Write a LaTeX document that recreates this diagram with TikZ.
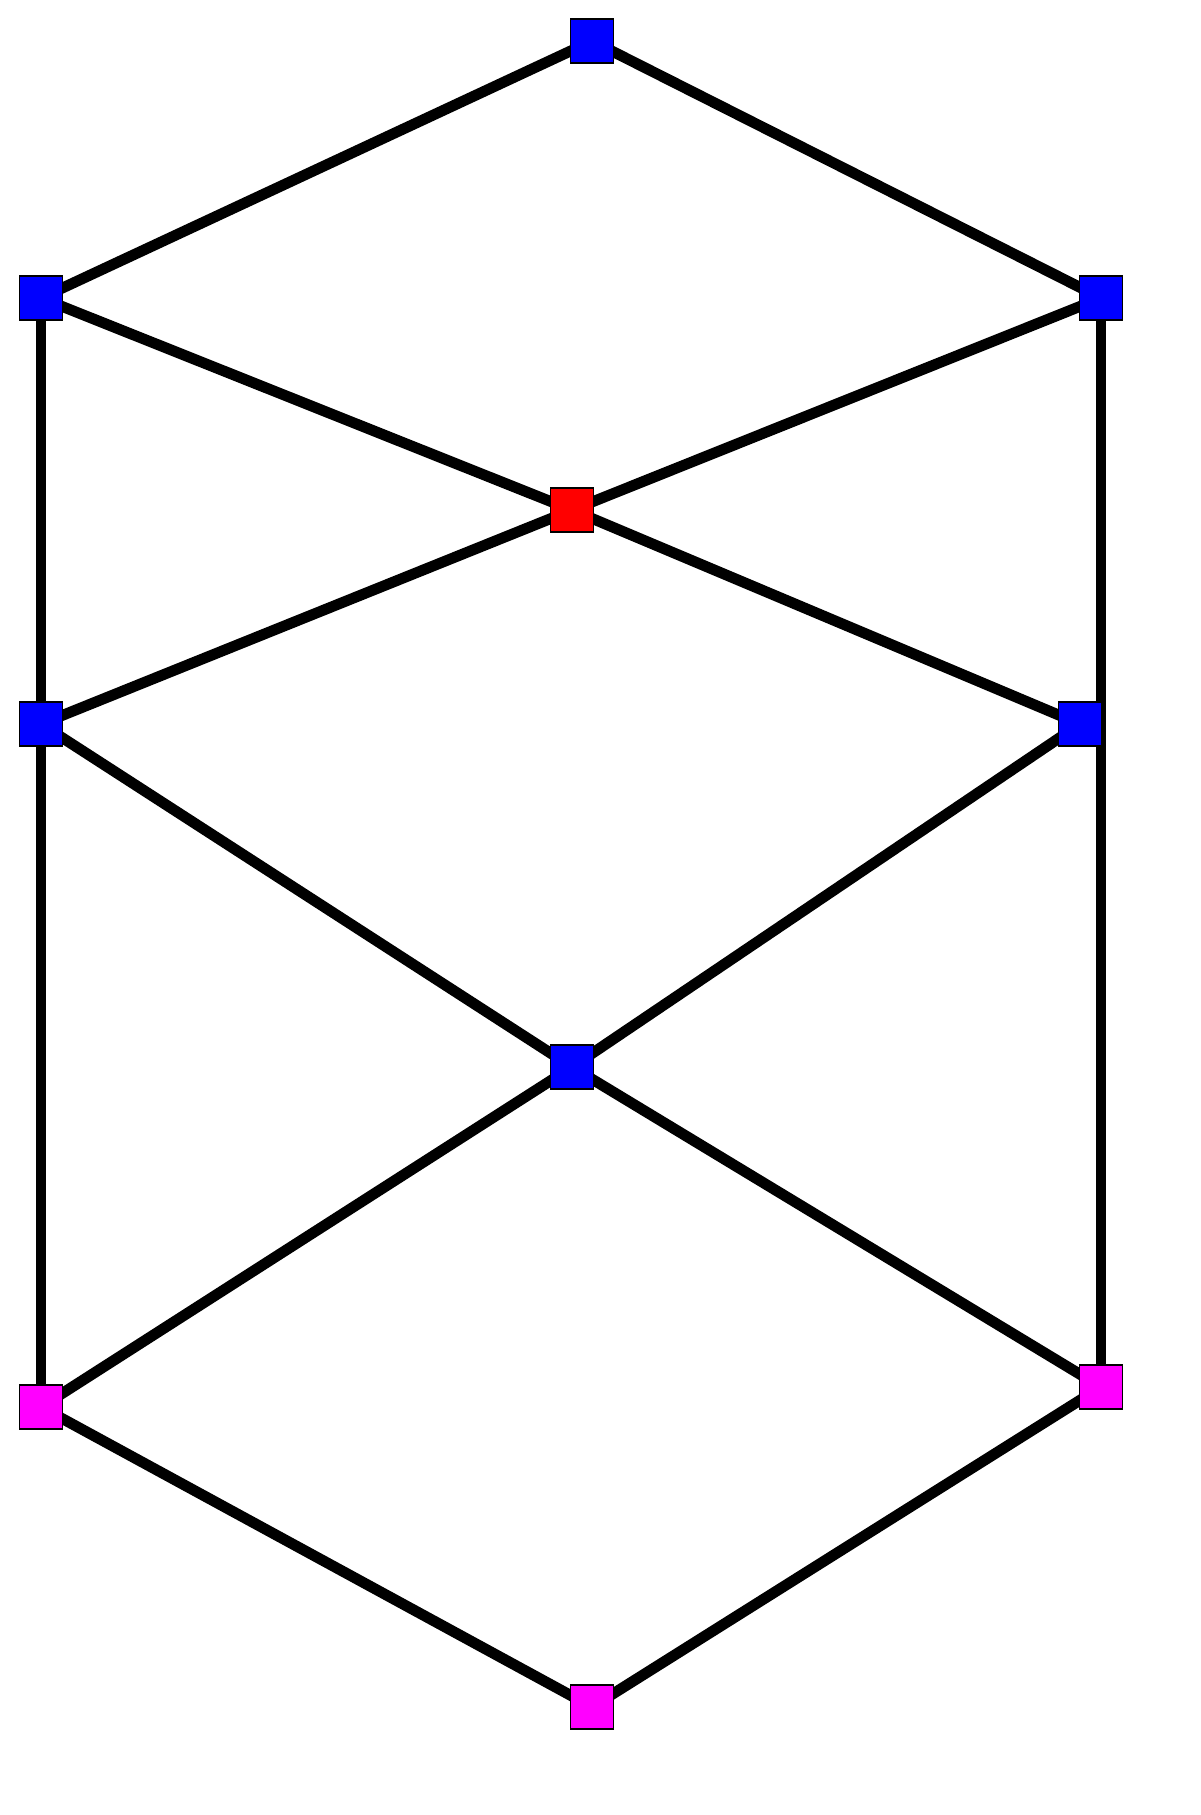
\documentclass[tikz,border=0pt]{standalone}
\definecolor{vtxblue}{RGB}{0,0,255}
\definecolor{vtxred}{RGB}{255,0,0}
\definecolor{vtxmag}{RGB}{255,0,255}
\begin{document}
\begin{tikzpicture}[x=0.5pt,y=-0.5pt,
  vtx/.style={draw=black,line width=0.7pt,minimum width=21.5pt,minimum height=22pt,inner sep=0pt},
  vblue/.style={vtx,fill=vtxblue},
  vred/.style={vtx,fill=vtxred},
  vmag/.style={vtx,fill=vtxmag},
  edge/.style={line width=5.4pt,black}]
\useasboundingbox (0,0) rectangle (1200,1815);
\node[vblue] (top) at (592,41) {};
\node[vblue] (l1) at (41,298) {};
\node[vblue] (r1) at (1101,298) {};
\node[vred] (red) at (572,510) {};
\node[vblue] (l2) at (41,724) {};
\node[vblue] (r2) at (1080,724) {};
\node[vblue] (mid) at (572,1067) {};
\node[vmag] (l3) at (41,1407) {};
\node[vmag] (r3) at (1101,1387) {};
\node[vmag] (bot) at (592,1707) {};
\draw[edge] (top.center) -- (l1.center);
\draw[edge] (top.center) -- (r1.center);
\draw[edge] (l1.center) -- (red.center);
\draw[edge] (r1.center) -- (red.center);
\draw[edge] (l1.center) -- (l2.center);
\draw[edge] (r1.center) -- (r3.center);
\draw[edge] (red.center) -- (l2.center);
\draw[edge] (red.center) -- (r2.center);
\draw[edge] (l2.center) -- (mid.center);
\draw[edge] (r2.center) -- (mid.center);
\draw[edge] (l2.center) -- (l3.center);
\draw[edge] (mid.center) -- (l3.center);
\draw[edge] (mid.center) -- (r3.center);
\draw[edge] (l3.center) -- (bot.center);
\draw[edge] (r3.center) -- (bot.center);
\node[vblue] at (top) {};
\node[vblue] at (l1) {};
\node[vblue] at (r1) {};
\node[vred] at (red) {};
\node[vblue] at (l2) {};
\node[vblue] at (r2) {};
\node[vblue] at (mid) {};
\node[vmag] at (l3) {};
\node[vmag] at (r3) {};
\node[vmag] at (bot) {};
\end{tikzpicture}
\end{document}
